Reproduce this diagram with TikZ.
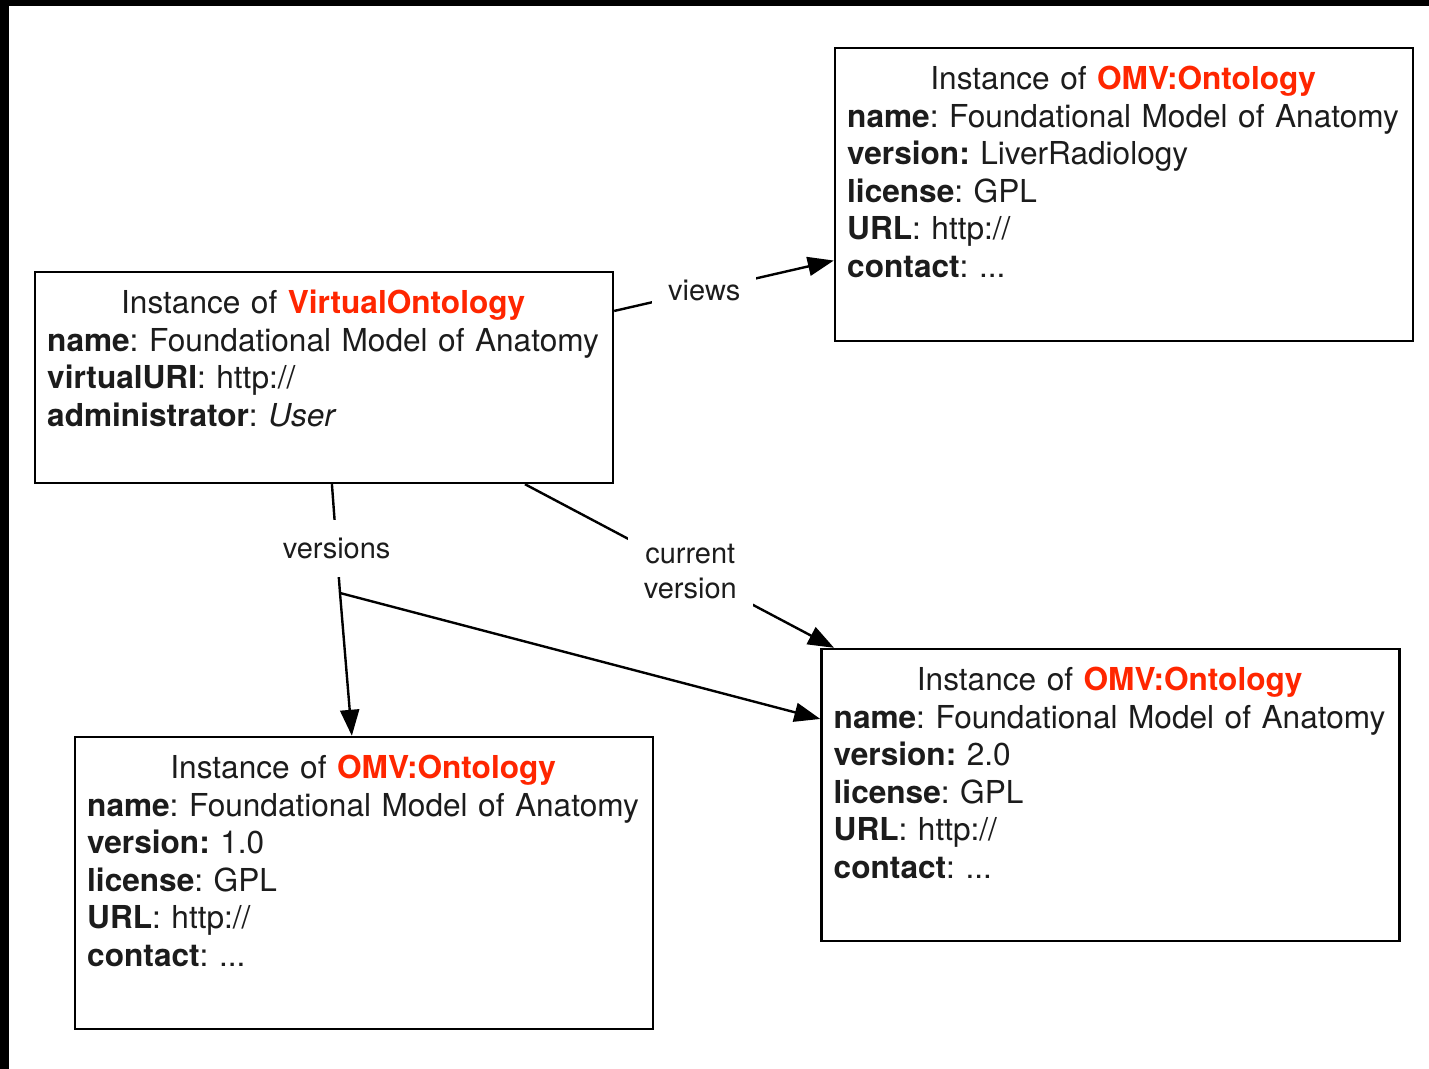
\documentclass[tikz,border=0pt]{standalone}
\usepackage{fontspec}
\setmainfont{TeX Gyre Heros}
\usetikzlibrary{arrows.meta}
\usetikzlibrary{calc}
\usetikzlibrary{positioning}

\definecolor{omvred}{RGB}{255,38,0}
\definecolor{inkgray}{RGB}{28,28,28}

\tikzset{
  obox/.style={draw, line width=1.2pt, minimum width=289pt, inner sep=0pt},
  otext/.style={anchor=north west, inner sep=0pt, text width=278pt, align=left,
    font=\fontsize{15.8}{18.75}\selectfont\frenchspacing, text=inkgray},
  rel/.style={fill=white, inner xsep=8pt, inner ysep=9pt, align=center,
    font=\fontsize{14.5}{17.5}\selectfont, text=inkgray},
  link/.style={line width=1.2pt},
  arrowed/.style={-{Triangle[length=13pt,width=9.5pt]}}
}
\newcommand{\classline}[1]{\makebox[276pt]{Instance of \textcolor{omvred}{\textbf{#1}}}}

\begin{document}
\begin{tikzpicture}[x=0.5pt,y=0.5pt,yscale=-1,xscale=1]
  \useasboundingbox (0,0) rectangle (1429,1069);
  \fill[black] (0,0) rectangle (1429,1069);
  \fill[white] (9,6) rectangle (1429,1069);

  % the four instances
  \node[obox, minimum height=105.5pt] (virtual) at (324,377.5) {};
  \node[obox, minimum height=146.5pt] (liver) at (1124,194.5) {};
  \node[obox, minimum height=146pt] (current) at (1110.5,795) {};
  \node[obox, minimum height=146pt] (first) at (364,883) {};

  \node[otext] (virtual-text) at ($(virtual.north west)+(13,19)$) {\classline{VirtualOntology}\\
    \textbf{name}: Foundational Model of Anatomy\\
    \textbf{virtualURI}: http://\\
    \textbf{administrator}: \textit{User}};
  \node[otext] (liver-text) at ($(liver.north west)+(13,19)$) {\classline{OMV:Ontology}\\
    \textbf{name}: Foundational Model of Anatomy\\
    \textbf{version:} LiverRadiology\\
    \textbf{license}: GPL\\
    \textbf{URL}: http://\\
    \textbf{contact}: ...};
  \node[otext] (current-text) at ($(current.north west)+(13,19)$) {\classline{OMV:Ontology}\\
    \textbf{name}: Foundational Model of Anatomy\\
    \textbf{version:} 2.0\\
    \textbf{license}: GPL\\
    \textbf{URL}: http://\\
    \textbf{contact}: ...};
  \node[otext] (first-text) at ($(first.north west)+(13,19)$) {\classline{OMV:Ontology}\\
    \textbf{name}: Foundational Model of Anatomy\\
    \textbf{version:} 1.0\\
    \textbf{license}: GPL\\
    \textbf{URL}: http://\\
    \textbf{contact}: ...};

  % links
  \coordinate (fork) at (340,593);
  \draw[link, arrowed] (virtual) -- node[rel, pos=0.41] {views} (liver);
  \draw[link, arrowed] (virtual) -- node[rel, pos=0.535] {current\\version} (current);
  \draw[link] (virtual) -- node[rel, pos=0.59] {versions} (fork);
  \draw[link, arrowed] (fork) -- (first);
  \draw[link, arrowed] (fork) -- (current);
\end{tikzpicture}
\end{document}
